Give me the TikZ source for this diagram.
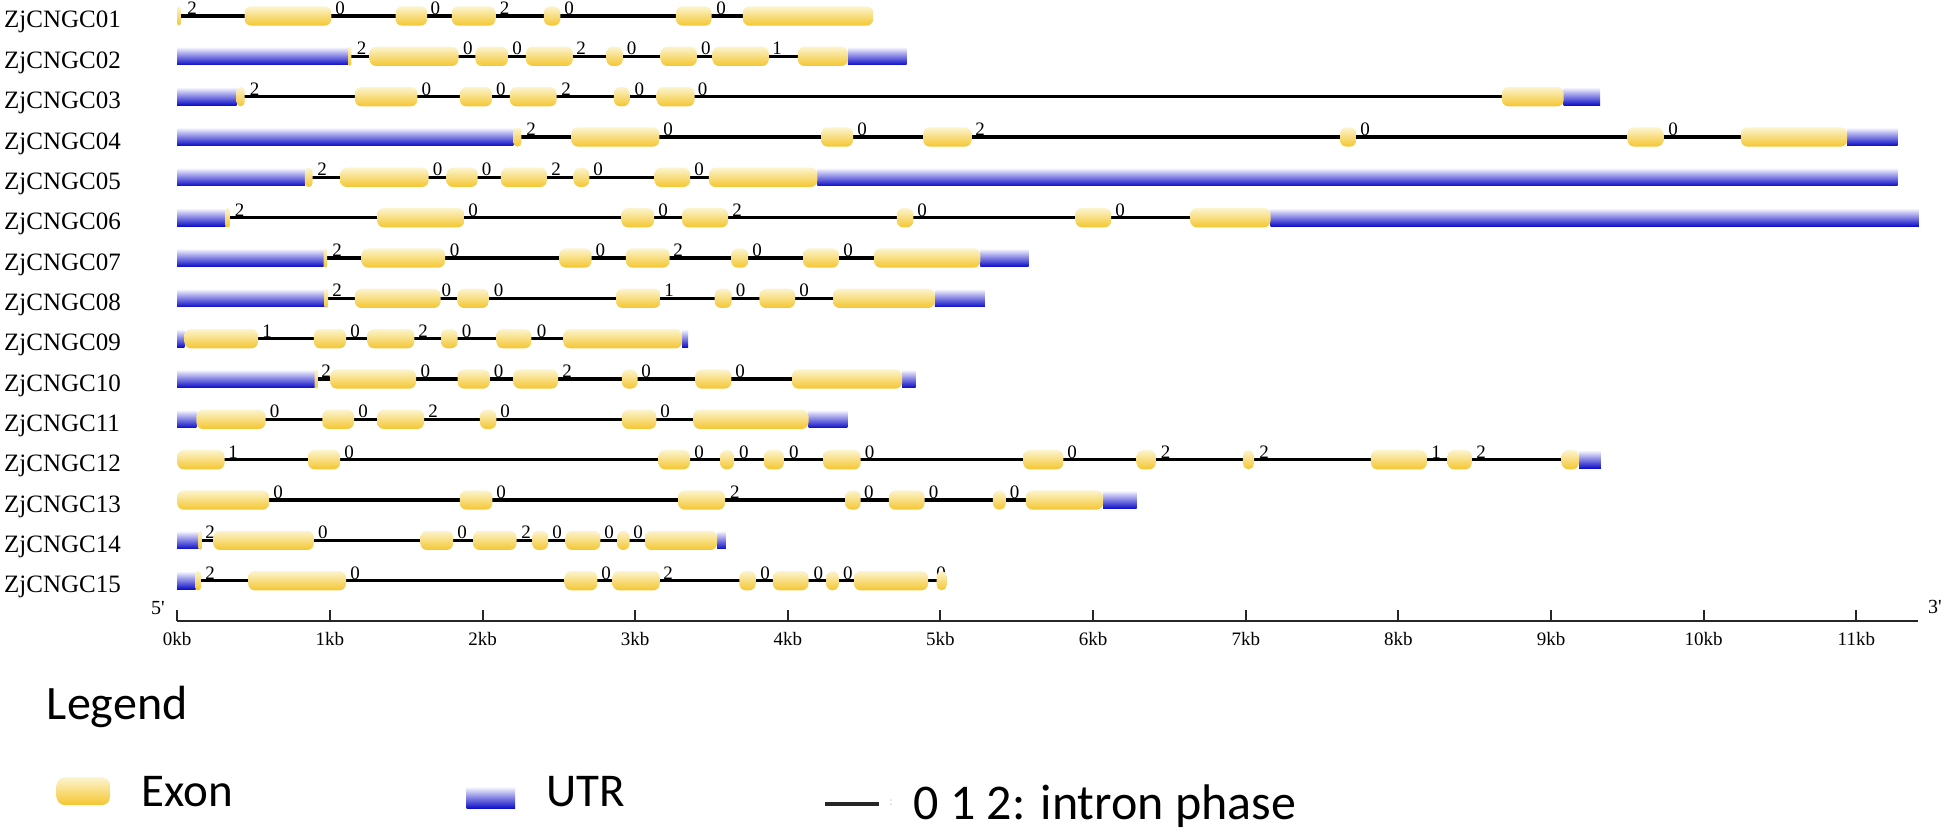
\documentclass[tikz,border=0pt]{standalone}
\usepackage{fontspec}
\setmainfont{Liberation Serif}
\newfontfamily\carl{Carlito}
\newcounter{phc}
\definecolor{exTop}{RGB}{252,244,206}
\definecolor{exBot}{RGB}{244,198,48}
\definecolor{utTop}{RGB}{240,240,253}
\definecolor{utBot}{RGB}{14,14,200}
\tikzset{
  exonbox/.style={top color=exTop,bottom color=exBot,draw=none},
  utrbox/.style={top color=utTop,bottom color=utBot,draw=none},
  intronline/.style={line width=3.2pt,black},
  phasenum/.style={font=\fontsize{19}{19}\selectfont,anchor=base,inner sep=0pt},
  genelabel/.style={font=\fontsize{25}{25}\selectfont,anchor=base west,inner sep=0pt},
  axisline/.style={line width=2.4pt,black!85},
  ticklab/.style={font=\fontsize{19}{19}\selectfont,anchor=base,inner sep=0pt},
  endlab/.style={font=\fontsize{20}{20}\selectfont,inner sep=0pt},
  legtext/.style={anchor=base west,inner sep=0pt},
}
\newcommand\rowy[1]{\pgfmathsetmacro\yy{815-(#1-1)*40.335}}
\newcommand\ex[3]{\rowy{#1}\pgfmathsetmacro\rr{min(6.5,(#3-#2)/2)}%
  \shade[exonbox,rounded corners=\rr pt] (#2,\yy-9.6) rectangle (#3,\yy+9.6);}
\newcommand\ut[3]{\rowy{#1}\shade[utrbox] (#2,\yy-8.5) rectangle (#3,\yy+8.5);}
\newcommand\intr[3]{\rowy{#1}\coordinate (i#1a) at (#2,\yy);\coordinate (i#1b) at (#3,\yy);%
  \draw[intronline] (i#1a) -- (i#1b);}
\newcommand\ph[3]{\rowy{#1}\stepcounter{phc}\node[phasenum] (ph\arabic{phc}) at (#2,\yy+1.5) {#3};}
\newcommand\glab[2]{\rowy{#1}\node[genelabel] (g#1) at (4,\yy-12) {#2};}
\begin{document}
\begin{tikzpicture}[x=1pt,y=1pt]
\useasboundingbox (0,0) rectangle (1946,831);
\fill[white] (0,0) rectangle (1946,831);

% gene labels
\glab{1}{ZjCNGC01}\glab{2}{ZjCNGC02}\glab{3}{ZjCNGC03}\glab{4}{ZjCNGC04}\glab{5}{ZjCNGC05}
\glab{6}{ZjCNGC06}\glab{7}{ZjCNGC07}\glab{8}{ZjCNGC08}\glab{9}{ZjCNGC09}\glab{10}{ZjCNGC10}
\glab{11}{ZjCNGC11}\glab{12}{ZjCNGC12}\glab{13}{ZjCNGC13}\glab{14}{ZjCNGC14}\glab{15}{ZjCNGC15}

% Row 1
\intr{1}{179}{873}
\foreach \p/\d in {192/2,340/0,435.3/0,504.5/2,569.2/0,721/0} {\ph{1}{\p}{\d}}
\foreach \a/\b in {177.2/180.8,244.6/331.3,395.5/427.2,451.8/495.5,543.8/560.3,675.9/711.6,742.9/873.2} {\ex{1}{\a}{\b}}

% Row 2
\intr{2}{349}{847}
\foreach \p/\d in {361.6/2,467.9/0,517/0,581.2/2,631.7/0,705.8/0,777/1} {\ph{2}{\p}{\d}}
\ut{2}{177.2}{348.2}\ut{2}{847.8}{906.7}
\foreach \a/\b in {348.2/351.3,369.6/458.5,475.4/508,525.9/572.8,606.3/622.8,660.7/696.9,712.5/768.8,797.8/847.8} {\ex{2}{\a}{\b}}

% Row 3
\intr{3}{238}{1563}
\foreach \p/\d in {254.5/2,426.3/0,500.9/0,566/2,639.3/0,702.7/0} {\ph{3}{\p}{\d}}
\ut{3}{177.2}{236.6}\ut{3}{1563.7}{1600}
\foreach \a/\b in {236.6/244.6,354.9/417.4,459.8/492,509.8/556.7,613.8/629.5,656.7/694.6,1501.9/1563.7} {\ex{3}{\a}{\b}}

% Row 4
\intr{4}{515}{1847}
\foreach \p/\d in {531/2,668/0,862/0,980/2,1365/0,1673/0} {\ph{4}{\p}{\d}}
\ut{4}{177.2}{513.4}\ut{4}{1847.2}{1897.5}
\foreach \a/\b in {513.4/521.4,571.4/659.4,821/853.1,923.2/971.4,1340/1356.4,1627.6/1663.4,1740.9/1847.2} {\ex{4}{\a}{\b}}

% Row 5
\intr{5}{306}{817}
\foreach \p/\d in {322/2,437.5/0,486.6/0,556/2,598.2/0,699/0} {\ph{5}{\p}{\d}}
\ut{5}{177.2}{304.9}\ut{5}{817.4}{1897.5}
\foreach \a/\b in {304.9/312.5,340.2/428.6,446.4/477.7,500.9/546.9,573.7/589.3,654.5/690.2,708.9/817.4} {\ex{5}{\a}{\b}}

% Row 6
\intr{6}{227}{1270}
\foreach \p/\d in {239.7/2,473/0,663/0,737/2,922/0,1120/0} {\ph{6}{\p}{\d}}
\ut{6}{177.2}{225.4}\ut{6}{1270.5}{1918.9}
\foreach \a/\b in {225.4/229.9,377.2/464.3,621.4/654,682.1/728.1,896.9/913.4,1075.4/1111.2,1190.2/1270.5} {\ex{6}{\a}{\b}}

% Row 7
\intr{7}{325}{980}
\foreach \p/\d in {337/2,454.5/0,600.4/0,678/2,757/0,848/0} {\ph{7}{\p}{\d}}
\ut{7}{177.2}{323.7}\ut{7}{980.4}{1028.6}
\foreach \a/\b in {323.7/327.2,361.6/445.1,559.4/591.5,625.9/669.6,731.2/748.2,803.1/838.8,874.1/980.4} {\ex{7}{\a}{\b}}

% Row 8
\intr{8}{326}{934}
\foreach \p/\d in {337/2,446.4/0,498.7/0,669/1,740.6/0,804/0} {\ph{8}{\p}{\d}}
\ut{8}{177.2}{324.6}\ut{8}{934.8}{984.8}
\foreach \a/\b in {324.6/328.1,354.9/440.6,457.6/488.8,616/660.7,714.7/731.7,759.4/795.1,833/934.8} {\ex{8}{\a}{\b}}

% Row 9
\intr{9}{186}{681}
\foreach \p/\d in {267/1,355/0,423/2,466.5/0,541.5/0} {\ph{9}{\p}{\d}}
\ut{9}{177.2}{184.4}\ut{9}{682.1}{688}
\foreach \a/\b in {184.4/258,313.8/346,367.4/414.3,441/457.6,496.4/531.3,563.4/682.1} {\ex{9}{\a}{\b}}

% Row 10
\intr{10}{316}{902}
\foreach \p/\d in {326/2,425.4/0,498.7/0,567/2,646/0,740/0} {\ph{10}{\p}{\d}}
\ut{10}{177.2}{314.7}\ut{10}{902.2}{915.6}
\foreach \a/\b in {314.7/317.9,330.4/416,457.6/489.7,513.4/558,621.9/637.5,695.5/731.3,792/902.2} {\ex{10}{\a}{\b}}

% Row 11
\intr{11}{198}{808}
\foreach \p/\d in {274.5/0,363/0,433/2,505/0,665/0} {\ph{11}{\p}{\d}}
\ut{11}{177.2}{196.4}\ut{11}{808.5}{847.3}
\foreach \a/\b in {196.4/265.6,322.3/354,377.2/424.1,479.9/496.4,621.9/656.3,693.3/808.5} {\ex{11}{\a}{\b}}

% Row 12
\intr{12}{179}{1578}
\foreach \p/\d in {233/1,349/0,699/0,743.75/0,793.75/0,869.6/0,1072/0,1165.6/2,1264/2,1436/1,1481/2} {\ph{12}{\p}{\d}}
\ut{12}{1579}{1600.8}
\foreach \a/\b in {177.2/224.6,308/340.2,658.5/690,720/734,763.8/783.9,823.2/860.7,1023.2/1063.4,1136.6/1155.8,1242.9/1254,1370.9/1426.9,1447.5/1471.8,1561.6/1579} {\ex{12}{\a}{\b}}

% Row 13
\intr{13}{179}{1103}
\foreach \p/\d in {278/0,501/0,734.8/2,868.75/0,933.5/0,1014.7/0} {\ph{13}{\p}{\d}}
\ut{13}{1103.1}{1136.6}
\foreach \a/\b in {177.2/269.2,459.8/492.4,678.1/725,845.1/860.7,888.8/924.6,992.9/1005.8,1025.9/1103.1} {\ex{13}{\a}{\b}}

% Row 14
\intr{14}{200}{717}
\foreach \p/\d in {210/2,322.8/0,462/0,526/2,557/0,609/0,638/0} {\ph{14}{\p}{\d}}
\ut{14}{177.2}{198.7}\ut{14}{717}{725.9}
\foreach \a/\b in {198.7/201.8,213.4/313.8,420.5/453.1,473.2/516.5,532.1/548.2,565.6/600.4,617/629.5,645/717} {\ex{14}{\a}{\b}}

% Row 15
\intr{15}{197}{946}
\foreach \p/\d in {210/2,355/0,606/0,668/2,765.2/0,818.3/0,847.8/0,941/0} {\ph{15}{\p}{\d}}
\ut{15}{177.2}{195.5}
\foreach \a/\b in {195.5/200.9,248.2/346,564.7/597.3,612.5/659.8,739.3/755.8,772.8/808.5,826.3/838.8,854/928.1,936.6/946.9} {\ex{15}{\a}{\b}}

% axis
\coordinate (axL) at (177.2,210.3);
\coordinate (axR) at (1918,210.3);
\draw[axisline] (axL) -- (axR);
\foreach \k in {0,...,11} {
  \pgfmathsetmacro\xx{177.2+\k*152.65}
  \coordinate (tk\k) at (\xx,210.3);
  \draw[axisline,line width=2pt] (tk\k) -- ++(0,10.5);
  \node[ticklab] (t\k) at (\xx,186) {\k kb};
}
\node[endlab] (five) at (158,223) {5\textquotesingle};
\node[endlab] (three) at (1935,224.5) {3\textquotesingle};

% legend
\node[legtext,font=\carl\fontsize{48}{48}\selectfont] (leg) at (46.7,111.7) {Legend};
\shade[exonbox,rounded corners=8pt] (56.7,26) rectangle (110,53.7);
\node[legtext,font=\carl\fontsize{47}{47}\selectfont] (lexon) at (141.7,24.3) {Exon};
\shade[utrbox] (466.7,22.7) rectangle (515,43.3);
\node[legtext,font=\carl\fontsize{47}{47}\selectfont] (lutr) at (546,24.3) {UTR};
\coordinate (liA) at (825,27);
\coordinate (liB) at (879.3,27);
\draw[line width=4pt,black!85] (liA) -- (liB);
\node[font=\fontsize{12}{12}\selectfont,text=black!25,inner sep=0pt] (lcol) at (891,28) {:};
\node[legtext,font=\carl\fontsize{50}{50}\selectfont] (lph) at (913.3,11.7) {0 1 2: intron phase};
\end{tikzpicture}
\end{document}
